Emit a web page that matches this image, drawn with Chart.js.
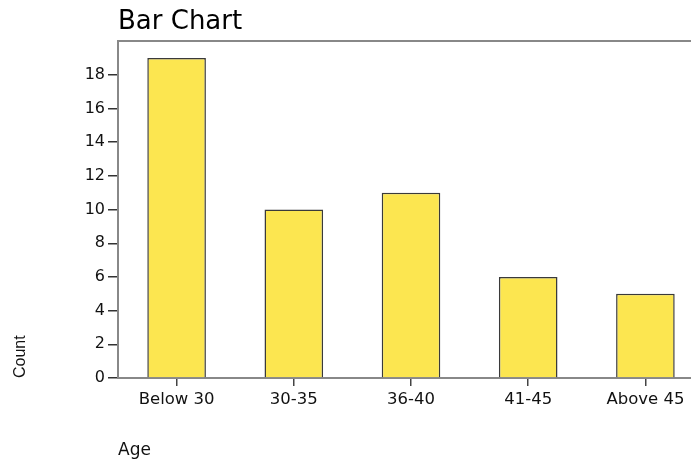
<!DOCTYPE html>
<html>
<head>
    <title>Bar Chart</title>
    <script src="https://cdn.jsdelivr.net/npm/chart.js"></script>
    <style>
        html, body { margin: 0; padding: 0; overflow: hidden; background: #fff; }
        .chart-box { width: 704px; height: 459px; }
    </style>
</head>
<body>
    <div class="chart-box">
        <canvas id="bar-chart"></canvas>
    </div>

    <script>
        // data
        const ageGroups = ['Below 30', '30-35', '36-40', '41-45', 'Above 45'];
        const counts = [19, 10, 11, 6, 5];
        const yTicks = [0, 2, 4, 6, 8, 10, 12, 14, 16, 18];

        const ctx = document.getElementById('bar-chart').getContext('2d');
        new Chart(ctx, {
            type: 'bar',
            data: {
                labels: ageGroups,
                datasets: [{
                    label: 'Count',
                    data: counts,
                    backgroundColor: '#FCE650',
                    borderColor: '#3a3a3a',
                    borderWidth: 1.5,
                    barPercentage: 0.5,
                    categoryPercentage: 1
                }]
            },
            options: {
                responsive: true,
                maintainAspectRatio: false,
                animation: false,
                layout: { padding: 0 },
                plugins: {
                    legend: { display: false },
                    tooltip: { enabled: false },
                    title: {
                        display: true,
                        text: 'Bar Chart',
                        align: 'start',
                        fullSize: false,
                        color: '#000',
                        font: { family: 'DejaVu Sans', size: 26, weight: 'normal' },
                        padding: { top: 7, bottom: 3 }
                    }
                },
                scales: {
                    x: {
                        grid: {
                            display: true,
                            offset: false,
                            drawOnChartArea: false,
                            drawTicks: true,
                            tickLength: 8,
                            lineWidth: 1.5,
                            color: '#444'
                        },
                        border: { color: '#888', width: 2 },
                        ticks: {
                            color: '#111',
                            padding: 4,
                            font: { family: 'DejaVu Sans', size: 16.5 }
                        },
                        title: {
                            display: true,
                            text: 'Age',
                            align: 'start',
                            color: '#111',
                            font: { family: 'DejaVu Sans', size: 17 },
                            padding: { top: 0, bottom: -2 }
                        },
                        afterFit: s => { s.height = 81; }
                    },
                    x2: {
                        type: 'category',
                        position: 'top',
                        labels: ageGroups,
                        grid: { display: false, drawTicks: false },
                        border: { color: '#888', width: 2 },
                        ticks: { display: false },
                        afterFit: s => { s.height = 0; }
                    },
                    y: {
                        min: 0,
                        max: 20,
                        afterBuildTicks: s => {
                            s.ticks = yTicks.map(v => ({ value: v }));
                        },
                        grid: {
                            display: true,
                            drawOnChartArea: false,
                            drawTicks: true,
                            tickLength: 10,
                            lineWidth: 1.5,
                            color: '#333'
                        },
                        border: { color: '#888', width: 2 },
                        ticks: {
                            color: '#111',
                            padding: 3,
                            font: { family: 'DejaVu Sans', size: 16 }
                        },
                        title: {
                            display: true,
                            text: 'Count',
                            align: 'start',
                            color: '#111',
                            font: { family: 'Liberation Sans', size: 16 },
                            padding: { top: 11, bottom: 0 }
                        },
                        afterFit: s => { s.width = 118; }
                    }
                }
            }
        });
    </script>
</body>
</html>
